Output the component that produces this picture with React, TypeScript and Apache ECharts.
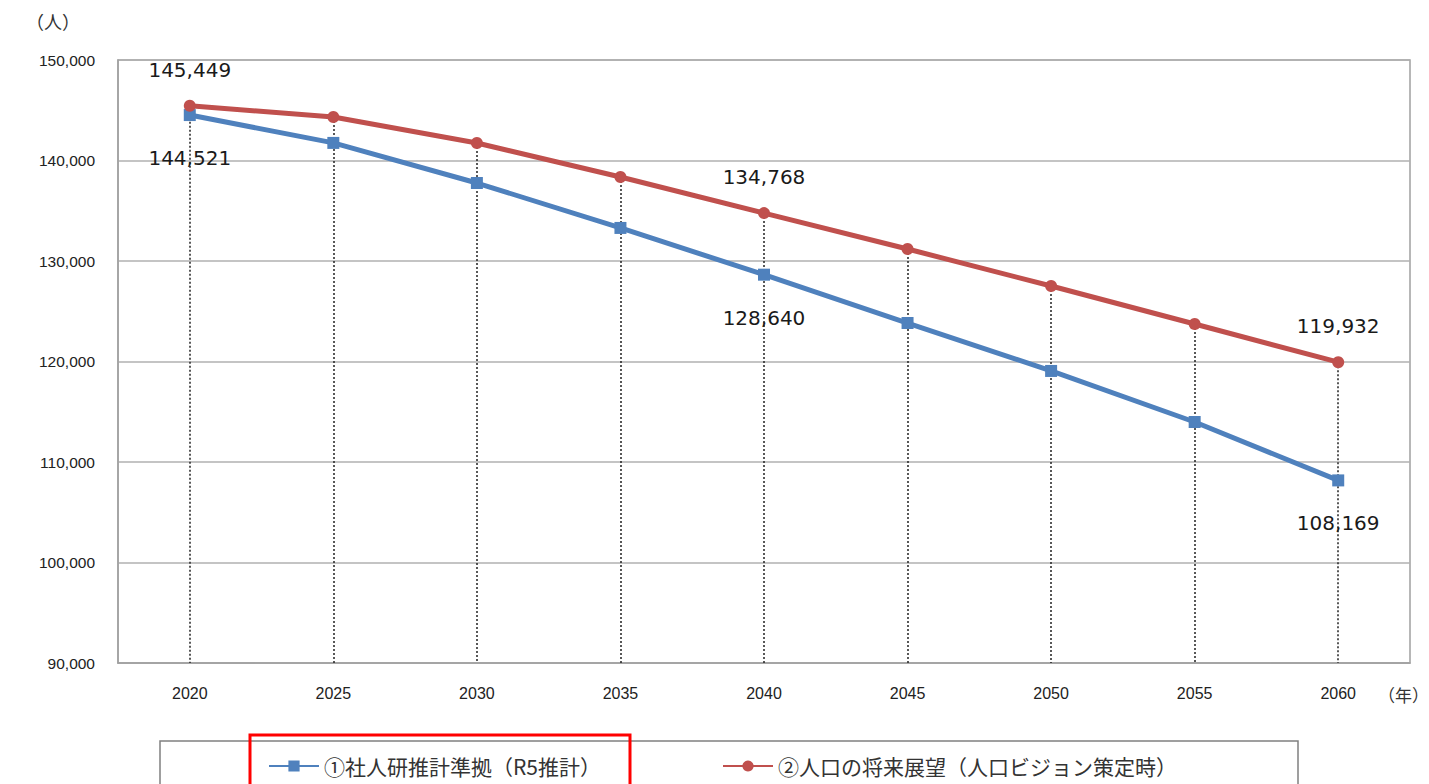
import React, { useEffect, useRef } from "react";
import * as echarts from "echarts";

const years = ["2020", "2025", "2030", "2035", "2040", "2045", "2050", "2055", "2060"];
const seriesNames = ["①社人研推計準拠（R5推計）", "②人口の将来展望（人口ビジョン策定時）"];
const ipssValues = [144521, 141750, 137760, 133290, 128640, 123830, 119060, 113980, 108169];
const visionValues = [145449, 144330, 141740, 138360, 134768, 131190, 127510, 123730, 119932];
const labeledIndex = [0, 4, 8];
const yMin = 90000;
const yMax = 150000;
const yStep = 10000;

const fmt = (v: number) => v.toLocaleString("en-US");

export default function App() {
  const ref = useRef<HTMLDivElement>(null);
  useEffect(() => {
    document.body.style.margin = "0";
    if (!ref.current) return;
    const chart = echarts.init(ref.current, null, { renderer: "svg" });
    const mkData = (vals: number[]) =>
      vals.map((v, i) => ({ value: v, label: { show: labeledIndex.includes(i) } }));
    const labelFont = {
      fontFamily: "DejaVu Sans",
      fontSize: 20,
      color: "#1a1a1a",
      formatter: (p: any) => fmt(p.value),
    };
    const legendText = { fontFamily: "Noto Sans CJK JP", fontSize: 21, color: "#333", lineHeight: 24 };
    chart.setOption({
      animation: false,
      backgroundColor: "#ffffff",
      grid: { left: 118, right: 19, top: 60, bottom: 121, show: true, borderColor: "#a0a0a0", borderWidth: 1.5 },
      xAxis: {
        type: "category",
        data: years,
        boundaryGap: true,
        axisLine: { show: true, lineStyle: { color: "#a0a0a0", width: 1.5 } },
        axisTick: { show: false },
        axisLabel: { margin: 22, fontFamily: "Liberation Sans", fontSize: 16, color: "#222" },
        splitLine: { show: false },
      },
      yAxis: {
        type: "value",
        min: yMin,
        max: yMax,
        interval: yStep,
        axisLine: { show: true, lineStyle: { color: "#a0a0a0", width: 1.5 } },
        axisTick: { show: false },
        axisLabel: { margin: 23, fontFamily: "Liberation Sans", fontSize: 15.5, color: "#222", formatter: (v: number) => fmt(v) },
        splitLine: { show: true, lineStyle: { color: "#b0b0b0", width: 1.5 } },
      },
      legend: [
        {
          data: [seriesNames[0]],
          left: 268,
          top: 754,
          padding: 0,
          itemWidth: 50,
          itemHeight: 14,
          itemGap: 4,
          textStyle: legendText,
        },
        {
          data: [seriesNames[1]],
          left: 722,
          top: 754,
          padding: 0,
          itemWidth: 50,
          itemHeight: 14,
          itemGap: 4,
          textStyle: legendText,
        },
      ],
      graphic: [
        { type: "text", left: 26, top: 12, style: { text: "（人）", fontFamily: "Noto Sans CJK JP", fontSize: 18, fill: "#333" } },
        { type: "text", left: 1378, top: 686, style: { text: "（年）", fontFamily: "Noto Sans CJK JP", fontSize: 17, fill: "#333" } },
        { type: "rect", shape: { x: 160, y: 741, width: 1138, height: 80 }, style: { fill: "none", stroke: "#808080", lineWidth: 1.5 } },
        { type: "rect", shape: { x: 250, y: 735, width: 380, height: 80 }, style: { fill: "none", stroke: "#ff0000", lineWidth: 3 } },
      ],
      series: [
        {
          name: seriesNames[0],
          type: "line",
          data: mkData(ipssValues),
          symbol: "rect",
          symbolSize: 12,
          lineStyle: { color: "#4f81bd", width: 5 },
          itemStyle: { color: "#4f81bd" },
          label: { position: "bottom", distance: 27, ...labelFont },
          z: 3,
        },
        {
          name: seriesNames[1],
          type: "line",
          data: mkData(visionValues),
          symbol: "circle",
          symbolSize: 12,
          lineStyle: { color: "#c0504d", width: 5 },
          itemStyle: { color: "#c0504d" },
          label: { position: "top", distance: 20, ...labelFont },
          z: 4,
          markLine: {
            silent: true,
            symbol: "none",
            label: { show: false },
            lineStyle: { color: "#222", type: [2, 2], width: 1.5 },
            z: 1,
            data: visionValues.map((v, i) => [
              { coord: [years[i], v] },
              { coord: [years[i], yMin] },
            ]),
          },
        },
      ],
    });
    return () => chart.dispose();
  }, []);
  return <div ref={ref} style={{ width: 1429, height: 784 }} />;
}
